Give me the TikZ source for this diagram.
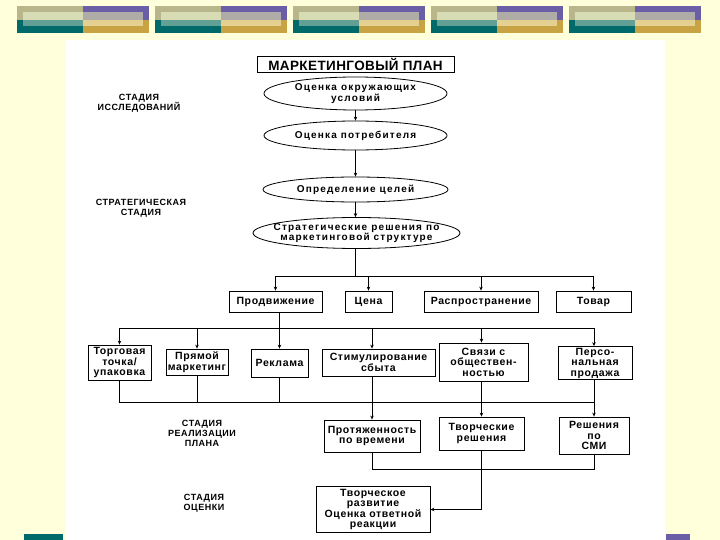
\documentclass[tikz,border=0pt]{standalone}
\usepackage{fontspec}
\setmainfont{Liberation Sans}
\newfontfamily\planfont{Liberation Sans}[LetterSpace=6]
\newfontfamily\ovalfont{Liberation Sans}[LetterSpace=12]
\newfontfamily\titlefont{Liberation Sans}[LetterSpace=3]
\usetikzlibrary{shapes.geometric,arrows.meta}

\definecolor{pagebg}{HTML}{FFFFDC}
\definecolor{khaki}{HTML}{BAB68C}
\definecolor{khakilight}{HTML}{D8DCB4}
\definecolor{teal}{HTML}{006A6A}
\definecolor{teallight}{HTML}{62A096}
\definecolor{violet}{HTML}{6A5EA6}
\definecolor{greyband}{HTML}{AFABA6}
\definecolor{gold}{HTML}{C8A343}
\definecolor{goldlight}{HTML}{E4D090}

\begin{document}
\begin{tikzpicture}[
    x=1pt, y=-1pt,
    every node/.style={align=center, inner sep=0pt,
        font=\planfont\bfseries\fontsize{10.5}{10.5}\selectfont},
    box/.style={draw, rectangle, line width=0.8pt},
    oval/.style={draw, ellipse, inner xsep=-30pt, inner ysep=-2pt, line width=0.8pt,
        font=\ovalfont\bfseries\fontsize{10}{10.5}\selectfont},
    stage/.style={font=\planfont\bfseries\fontsize{9}{10}\selectfont},
    link/.style={-{Stealth[length=4pt,width=3.5pt]}, line width=0.8pt},
    bus/.style={line width=0.8pt}
]
\useasboundingbox (0,0) rectangle (720,540);

% Page
\fill[pagebg] (0,0) rectangle (720,540);
\fill[white] (66,40) rectangle (665,540);
\foreach \x in {17,155,293,431,569} {
    \fill[khaki] (\x,6) rectangle +(66,14);
    \fill[teal] (\x,20) rectangle +(66,13);
    \fill[khakilight] (\x+6,12) rectangle +(60,8);
    \fill[teallight] (\x+6,20) rectangle +(60,6);
    \fill[violet] (\x+66,6) rectangle +(66,14);
    \fill[gold] (\x+66,20) rectangle +(66,13);
    \fill[greyband] (\x+66,12) rectangle +(60,8);
    \fill[goldlight] (\x+66,20) rectangle +(60,6);
}
\fill[teal] (24,534) rectangle (63,540);
\fill[violet] (666,534) rectangle (690,540);

% Nodes
\node[box, minimum width=197, minimum height=16,
    font=\titlefont\bfseries\fontsize{13.5}{14}\selectfont] (plan) at (355.5,64) {МАРКЕТИНГОВЫЙ ПЛАН};
\node[oval, minimum width=183, minimum height=33] (env) at (355.5,93.5) {Оценка окружающих\\условий};
\node[oval, minimum width=183, minimum height=29] (buyer) at (355.5,135.5) {Оценка потребителя};
\node[oval, minimum width=185, minimum height=25] (goals) at (355.5,189.5) {Определение целей};
\node[oval, minimum width=207, minimum height=31] (strat) at (356.5,233) {Стратегические решения по\\маркетинговой структуре};

\node[box, minimum width=93, minimum height=21] (promo) at (275.5,301.5) {Продвижение};
\node[box, minimum width=47, minimum height=21] (price) at (368.5,301.5) {Цена};
\node[box, minimum width=114, minimum height=21] (distr) at (481,301.5) {Распространение};
\node[box, minimum width=75, minimum height=21] (goods) at (593.5,301.5) {Товар};

\node[box, minimum width=63, minimum height=35] (outlet) at (119.5,362.5) {Торговая\\точка/\\упаковка};
\node[box, minimum width=62, minimum height=26] (direct) at (197,362) {Прямой\\маркетинг};
\node[box, minimum width=57, minimum height=28] (adv) at (279.5,363) {Реклама};
\node[box, minimum width=113, minimum height=27] (sales) at (378.5,362.5) {Стимулирование\\сбыта};
\node[box, minimum width=89, minimum height=38] (pr) at (483.5,362) {Связи с\\обществен-\\ностью};
\node[box, minimum width=74, minimum height=33] (personal) at (595,363) {Персо-\\нальная\\продажа};

\node[box, minimum width=96, minimum height=32] (timing) at (372,436) {Протяженность\\по времени};
\node[box, minimum width=85, minimum height=33] (creative) at (481.5,433.5) {Творческие\\решения};
\node[box, minimum width=70, minimum height=37] (media) at (594,435.5) {Решения\\по\\СМИ};

\node[box, minimum width=114, minimum height=46] (final) at (373,509.5) {Творческое\\развитие\\Оценка ответной\\реакции};

\node[stage] (research) at (139,103) {СТАДИЯ\\ИССЛЕДОВАНИЙ};
\node[stage] (strategy) at (141,208) {СТРАТЕГИЧЕСКАЯ\\СТАДИЯ};
\node[stage] (action) at (202,433) {СТАДИЯ\\РЕАЛИЗАЦИИ\\ПЛАНА};
\node[stage] (review) at (204,503) {СТАДИЯ\\ОЦЕНКИ};

\coordinate (fork1) at (355.5,276);
\coordinate (fork2) at (279.5,328);
\coordinate (fork3) at (372,402);
\coordinate (fork4) at (481.5,469);

% Edges
\draw[link] (env) -- (buyer);
\draw[link] (buyer) -- (goals);
\draw[link] (goals) -- (goals |- strat.north);
\draw[bus] (strat.south -| fork1) -- (fork1);
\draw[bus] (promo.north |- fork1) -- (goods.north |- fork1);
\draw[link] (promo.north |- fork1) -- (promo.north);
\draw[link] (price.north |- fork1) -- (price.north);
\draw[link] (distr.north |- fork1) -- (distr.north);
\draw[link] (goods.north |- fork1) -- (goods.north);

\draw[link] (adv.north |- promo.south) -- (adv.north);
\draw[bus] (outlet.north |- fork2) -- (personal.north |- fork2);
\draw[link] (outlet.north |- fork2) -- (outlet.north);
\draw[link] (direct.north |- fork2) -- (direct.north);
\draw[link] (timing.north |- fork2) -- (timing.north |- sales.north);
\draw[link] (creative.north |- fork2) -- (creative.north |- pr.north);
\draw[link] (media.north |- fork2) -- (media.north |- personal.north);

\draw[bus] (outlet.south) |- (media.north |- fork3);
\draw[bus] (direct.south) -- (direct.south |- fork3);
\draw[bus] (adv.south) -- (adv.south |- fork3);
\draw[link] (timing.north |- sales.south) -- (timing.north);
\draw[link] (creative.north |- pr.south) -- (creative.north);
\draw[link] (media.north |- personal.south) -- (media.north);

\draw[bus] (timing.south) |- (media.south |- fork4) -- (media.south);
\draw[link] (creative.south) |- (final.east);

\end{tikzpicture}
\end{document}
